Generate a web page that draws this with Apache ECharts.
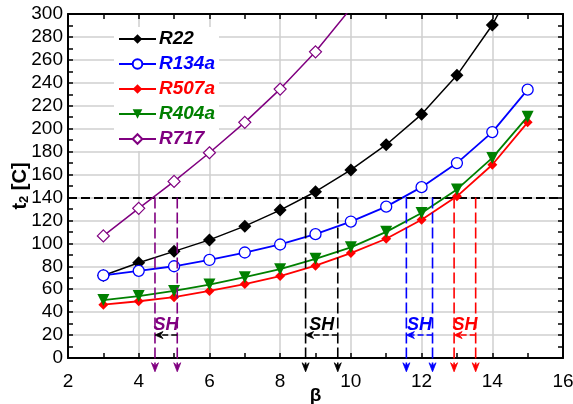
<!DOCTYPE html>
<html>
<head>
<meta charset="utf-8">
<script src="https://cdn.jsdelivr.net/npm/echarts@6/dist/echarts.min.js"></script>
<style>
html,body{margin:0;padding:0;background:#fff;}
#c{width:573px;height:404px;}
</style>
</head>
<body>
<div id="c"></div>
<script>
// ---- data ----
const betaMain = [3, 4, 5, 6, 7, 8, 9, 10, 11, 12, 13, 14, 15];
const betaR717 = [3, 4, 5, 6, 7, 8, 9, 10];
const r22   = [72, 83, 93, 103, 115, 129, 145, 164, 186, 212.5, 246.5, 290.4, 348];
const r134a = [72, 76, 80, 85.5, 92, 99, 108, 119, 132, 149, 170, 197, 234];
const r507a = [46.5, 49.5, 53, 58.5, 64.5, 71.5, 80.5, 91.5, 104, 120.5, 141, 168.5, 205.5];
const r404a = [50.5, 54, 58.5, 64, 70.5, 77.5, 86.5, 96.5, 110, 126.5, 147, 174.5, 210.5];
const r717  = [106.5, 130.5, 154, 179, 205.5, 234.5, 267, 305];
const seriesNames = ['R22', 'R134a', 'R507a', 'R404a', 'R717'];
const xTicks = [2, 4, 6, 8, 10, 12, 14, 16];
const yTicks = [0, 20, 40, 60, 80, 100, 120, 140, 160, 180, 200, 220, 240, 260, 280, 300];
const tLimit = 140;          // discharge temperature limit
const shLeft  = [4.46, 8.72, 11.57, 12.92];   // beta at limit (lower)
const shRight = [5.09, 9.63, 12.31, 13.53];   // beta at limit (upper)
const shArrowLevel = 20;
const shTextLevel = 29;
const shBottom = -12;

// ---- styles ----
const FONT = '"Liberation Sans", Arial, Helvetica, sans-serif';
const colors = {R22:'#000000', R134a:'#0000ff', R507a:'#ff0000', R404a:'#008000', R717:'#800080'};
const shLineColors  = ['#800080', '#000000', '#0000ff', '#ff0000'];
const shArrowColors = ['#000000', '#000000', '#0000ff', '#ff0000'];
const shTextColors  = ['#800080', '#000000', '#0000ff', '#ff0000'];

const pair = (xs, ys) => xs.map((x, i) => [x, ys[i]]);

const chart = echarts.init(document.getElementById('c'), null, {renderer: 'canvas'});

const shData = shLeft.map((v, i) => [v, shRight[i]]);

const option = {
  backgroundColor: '#fff',
  animation: false,
  textStyle: {fontFamily: FONT},
  grid: {left: 68, right: 10, top: 14, bottom: 46, containLabel: false, outerBoundsMode: 'none'},
  legend: {
    orient: 'vertical',
    left: 114, top: 27,
    backgroundColor: '#fff',
    padding: [2, 4, 2, 4],
    itemWidth: 37, itemHeight: 12, itemGap: 5,
    selectedMode: false,
    textStyle: {fontSize: 19, fontWeight: 'bold', fontStyle: 'italic', fontFamily: FONT, lineHeight: 20, padding: [0,0,0,-2]},
    data: seriesNames.map(n => ({name: n, textStyle: {color: colors[n]}}))
  },
  xAxis: [{
    type: 'value', position: 'bottom',
    min: xTicks[0], max: xTicks[xTicks.length - 1], interval: 2,
    name: 'β', nameLocation: 'middle', nameGap: 28, nameMoveOverlap: false,
    nameTextStyle: {fontSize: 19, fontWeight: 'bold', color: '#000', fontFamily: FONT},
    axisLine: {show: true, onZero: false, lineStyle: {color: '#000', width: 2}},
    axisTick: {show: true, inside: true, length: 5, lineStyle: {color: '#000', width: 1.5}},
    minorTick: {show: true, splitNumber: 2, length: 5, lineStyle: {color: '#000', width: 1.5}},
    axisLabel: {fontSize: 19, color: '#000', margin: 14, fontFamily: FONT},
    splitLine: {show: true, lineStyle: {color: '#cfcfcf', width: 1.5}}
  }, {
    type: 'value', position: 'top',
    min: xTicks[0], max: xTicks[xTicks.length - 1], interval: 2,
    axisLine: {show: true, onZero: false, lineStyle: {color: '#000', width: 2}},
    axisTick: {show: true, inside: true, length: 5, lineStyle: {color: '#000', width: 1.5}},
    minorTick: {show: true, splitNumber: 2, length: 5, lineStyle: {color: '#000', width: 1.5}},
    axisLabel: {show: false},
    splitLine: {show: false}
  }],
  yAxis: [{
    type: 'value', position: 'left',
    min: yTicks[0], max: yTicks[yTicks.length - 1], interval: 20,
    name: 't{s|2} [C]', nameLocation: 'middle', nameGap: 37, nameRotate: 90, nameMoveOverlap: false,
    nameTextStyle: {
      fontSize: 20, fontWeight: 'bold', color: '#000', fontFamily: FONT,
      rich: {s: {fontSize: 13, fontWeight: 'bold', color: '#000', fontFamily: FONT, padding: [8, 0, 0, 0]}}
    },
    axisLine: {show: true, onZero: false, lineStyle: {color: '#000', width: 2}},
    axisTick: {show: true, inside: true, length: 5, lineStyle: {color: '#000', width: 1.5}},
    minorTick: {show: true, splitNumber: 2, length: 5, lineStyle: {color: '#000', width: 1.5}},
    axisLabel: {fontSize: 19, color: '#000', margin: 5, fontFamily: FONT},
    splitLine: {show: true, lineStyle: {color: '#cfcfcf', width: 1.5}}
  }, {
    type: 'value', position: 'right',
    min: yTicks[0], max: yTicks[yTicks.length - 1], interval: 20,
    axisLine: {show: true, onZero: false, lineStyle: {color: '#000', width: 2}},
    axisTick: {show: true, inside: true, length: 5, lineStyle: {color: '#000', width: 1.5}},
    minorTick: {show: true, splitNumber: 2, length: 5, lineStyle: {color: '#000', width: 1.5}},
    axisLabel: {show: false},
    splitLine: {show: false}
  }],
  series: [
    {
      name: 'R22', type: 'line', xAxisIndex: 0, yAxisIndex: 0,
      data: pair(betaMain, r22), clip: true,
      symbol: 'diamond', symbolSize: 13,
      lineStyle: {color: colors.R22, width: 1.5},
      itemStyle: {color: colors.R22},
      markLine: {
        silent: true, symbol: 'none', animation: false,
        label: {show: false},
        lineStyle: {color: '#000', width: 2, type: [9, 4]},
        data: [{yAxis: tLimit}]
      },
      z: 3
    },
    {
      name: 'R134a', type: 'line', xAxisIndex: 0, yAxisIndex: 0,
      data: pair(betaMain, r134a), clip: true,
      symbol: 'circle', symbolSize: 11,
      lineStyle: {color: colors.R134a, width: 1.8},
      itemStyle: {color: '#fff', borderColor: colors.R134a, borderWidth: 1.3},
      z: 4
    },
    {
      name: 'R507a', type: 'line', xAxisIndex: 0, yAxisIndex: 0,
      data: pair(betaMain, r507a), clip: true,
      symbol: 'diamond', symbolSize: 10,
      lineStyle: {color: colors.R507a, width: 1.8},
      itemStyle: {color: colors.R507a},
      z: 5
    },
    {
      name: 'R404a', type: 'line', xAxisIndex: 0, yAxisIndex: 0,
      data: pair(betaMain, r404a), clip: true,
      symbol: 'triangle', symbolRotate: 180, symbolSize: 12,
      lineStyle: {color: colors.R404a, width: 1.8},
      itemStyle: {color: colors.R404a},
      z: 6
    },
    {
      name: 'R717', type: 'line', xAxisIndex: 0, yAxisIndex: 0,
      data: pair(betaR717, r717), clip: true,
      symbol: 'diamond', symbolSize: 12,
      lineStyle: {color: colors.R717, width: 1.5},
      itemStyle: {color: '#fff', borderColor: colors.R717, borderWidth: 1.2},
      z: 7
    },
    {
      name: 'SH', type: 'custom', xAxisIndex: 0, yAxisIndex: 0,
      clip: false, silent: true, z: 8,
      data: shData,
      renderItem: function (params, api) {
        const i = params.dataIndex;
        const xl = api.value(0), xr = api.value(1);
        const lc = shLineColors[i], ac = shArrowColors[i], tc = shTextColors[i];
        const children = [];
        [xl, xr].forEach(function (x) {
          const pt = api.coord([x, tLimit]);
          const pb = api.coord([x, shBottom]);
          children.push({
            type: 'line',
            shape: {x1: pt[0], y1: pt[1], x2: pb[0], y2: pb[1] - 5},
            style: {stroke: lc, lineWidth: 1.6, lineDash: [11, 4]}
          });
          children.push({
            type: 'polygon',
            shape: {points: [[pb[0] - 3.5, pb[1] - 9], [pb[0], pb[1] - 6], [pb[0] + 3.5, pb[1] - 9], [pb[0], pb[1]]]},
            style: {fill: lc, stroke: lc, lineWidth: 0.8}
          });
        });
        const al = api.coord([xl, shArrowLevel]);
        const ar = api.coord([xr, shArrowLevel]);
        children.push({
          type: 'line',
          shape: {x1: ar[0], y1: ar[1], x2: al[0] + 6, y2: al[1]},
          style: {stroke: ac, lineWidth: 1.6, lineDash: [6, 3]}
        });
        children.push({
          type: 'polygon',
          shape: {points: [[al[0], al[1]], [al[0] + 8, al[1] - 3.5], [al[0] + 5.5, al[1]], [al[0] + 8, al[1] + 3.5]]},
          style: {fill: ac, stroke: ac, lineWidth: 0.8}
        });
        const tp = api.coord([(xl + xr) / 2, shTextLevel]);
        children.push({
          type: 'text',
          style: {
            x: tp[0], y: tp[1], text: 'SH',
            font: 'italic bold 18px ' + FONT,
            fill: tc, align: 'center', verticalAlign: 'middle'
          }
        });
        return {type: 'group', children: children};
      }
    }
  ]
};

chart.setOption(option);
</script>
</body>
</html>
